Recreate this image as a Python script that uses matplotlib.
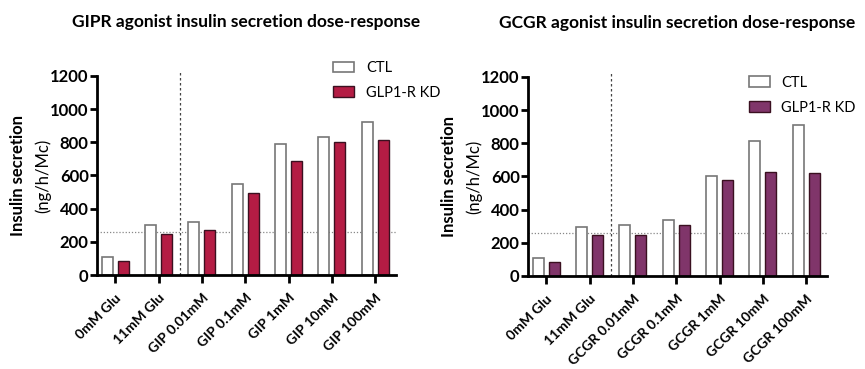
import matplotlib.pyplot as plt
import numpy as np

plt.rcParams["font.family"] = ["Lato", "DejaVu Sans"]

gipr_labels = ["0mM Glu", "11mM Glu", "GIP 0.01mM", "GIP 0.1mM", "GIP 1mM", "GIP 10mM", "GIP 100mM"]
gipr_ctl = [110, 300, 320, 550, 790, 830, 920]
gipr_kd = [85, 248, 270, 495, 688, 803, 815]

gcgr_labels = ["0mM Glu", "11mM Glu", "GCGR 0.01mM", "GCGR 0.1mM", "GCGR 1mM", "GCGR 10mM", "GCGR 100mM"]
gcgr_ctl = [110, 295, 310, 335, 600, 812, 910]
gcgr_kd = [85, 250, 245, 310, 578, 628, 620]

baseline = 260
split_at = 1.5


def draw_panel(ax, labels, ctl, kd, kd_color, title, legend_pos):
    x = np.arange(len(labels))
    w = 0.25
    ax.bar(x - 0.185, ctl, w, color="white", edgecolor="#777777", linewidth=1.2, label="CTL")
    ax.bar(x + 0.185, kd, w, color=kd_color, edgecolor="#3a1020", linewidth=1.0, label="GLP1-R KD")
    ax.axhline(baseline, color="#888888", linestyle=(0, (1, 1.5)), linewidth=0.9, zorder=0)
    ax.axvline(split_at, ymin=0, ymax=1.02, color="#444444", linestyle=(0, (2, 2)),
               linewidth=0.9, clip_on=False)
    ax.set_xlim(-0.42, 6.48)
    ax.set_ylim(0, 1200)
    ax.set_yticks(range(0, 1201, 200))
    ax.set_xticks(x)
    ax.set_xticklabels(labels, rotation=45, ha="right", rotation_mode="anchor",
                       fontsize=10, fontweight="bold")
    for lab in ax.get_yticklabels():
        lab.set_fontweight("bold")
        lab.set_fontsize(12)
    for side in ("top", "right"):
        ax.spines[side].set_visible(False)
    for side in ("left", "bottom"):
        ax.spines[side].set_linewidth(2)
    ax.tick_params(axis="y", width=2, length=5, pad=1)
    ax.tick_params(axis="x", width=2, length=6, pad=6)
    ax.set_ylabel("Insulin secretion", fontsize=12, fontweight="bold")
    ax.yaxis.set_label_coords(-0.236, 0.5)
    ax.text(-0.18, 0.5, "(ng/h/Mc)", transform=ax.transAxes, rotation=90,
            ha="center", va="center", fontsize=12)
    ax.set_title(title, fontsize=12.5, fontweight="bold", pad=35)
    ax.legend(loc="upper left", bbox_to_anchor=legend_pos, frameon=False, fontsize=10.5,
              handlelength=1.45, handleheight=0.75, labelspacing=0.75, handletextpad=0.8,
              borderaxespad=0)


fig = plt.figure(figsize=(8.65, 3.69), dpi=100)
ax1 = fig.add_axes([97 / 865, 1 - 275 / 369, 299 / 865, 199 / 369])
ax2 = fig.add_axes([528 / 865, 1 - 276 / 369, 299 / 865, 199 / 369])

draw_panel(ax1, gipr_labels, gipr_ctl, gipr_kd, "#b41c44",
           "GIPR agonist insulin secretion dose-response", (0.77, 1.105))
draw_panel(ax2, gcgr_labels, gcgr_ctl, gcgr_kd, "#80356a",
           "GCGR agonist insulin secretion dose-response", (0.718, 1.035))

fig.savefig("out.png", dpi=100)
